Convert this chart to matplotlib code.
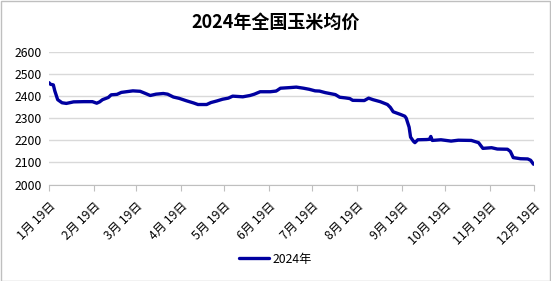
import matplotlib
matplotlib.use("Agg")
import matplotlib.pyplot as plt
import matplotlib.patches as mpatches
import matplotlib.transforms as mtransforms
import pandas as pd

plt.rcParams["font.family"] = ["Noto Sans CJK SC", "DejaVu Sans"]

# 2024 national corn average price (yuan/ton)
dates = [
    "2024-01-19", "2024-01-20", "2024-01-22", "2024-01-23", "2024-01-24", "2024-01-25",
    "2024-01-28", "2024-01-31", "2024-02-05", "2024-02-12", "2024-02-18", "2024-02-21",
    "2024-02-23", "2024-02-25", "2024-02-29", "2024-03-02", "2024-03-06", "2024-03-09",
    "2024-03-17", "2024-03-22", "2024-03-25", "2024-03-29", "2024-04-02", "2024-04-07",
    "2024-04-10", "2024-04-14", "2024-04-18", "2024-04-23", "2024-04-28", "2024-05-01",
    "2024-05-07", "2024-05-10", "2024-05-14", "2024-05-18", "2024-05-22", "2024-05-25",
    "2024-06-01", "2024-06-06", "2024-06-09", "2024-06-13", "2024-06-20", "2024-06-24",
    "2024-06-25", "2024-06-27", "2024-07-04", "2024-07-08", "2024-07-13", "2024-07-17",
    "2024-07-21", "2024-07-24", "2024-07-28", "2024-08-04", "2024-08-07", "2024-08-11",
    "2024-08-14", "2024-08-16", "2024-08-24", "2024-08-27", "2024-08-30", "2024-09-04",
    "2024-09-09", "2024-09-11", "2024-09-13", "2024-09-18", "2024-09-21", "2024-09-22",
    "2024-09-24", "2024-09-25", "2024-09-27", "2024-09-28", "2024-09-30", "2024-10-06",
    "2024-10-08", "2024-10-09", "2024-10-10", "2024-10-16", "2024-10-23", "2024-10-28",
    "2024-11-06", "2024-11-11", "2024-11-14", "2024-11-20", "2024-11-24", "2024-12-01",
    "2024-12-03", "2024-12-05", "2024-12-10", "2024-12-15", "2024-12-17", "2024-12-19",
]
prices = [
    2462, 2455, 2452, 2425, 2405, 2385,
    2371, 2368, 2375, 2376, 2376, 2369,
    2375, 2385, 2395, 2407, 2409, 2418,
    2425, 2423, 2415, 2404, 2410, 2413,
    2410, 2397, 2391, 2380, 2370, 2363,
    2363, 2372, 2379, 2387, 2392, 2401,
    2398, 2404, 2410, 2421, 2421, 2424,
    2428, 2437, 2440, 2442, 2437, 2432,
    2425, 2424, 2417, 2408, 2396, 2393,
    2390, 2382, 2381, 2392, 2385, 2376,
    2363, 2350, 2330, 2318, 2310, 2301,
    2260, 2215, 2196, 2190, 2203, 2204,
    2205, 2218, 2200, 2203, 2197, 2201,
    2200, 2190, 2164, 2167, 2161, 2160,
    2150, 2122, 2117, 2116, 2110, 2092,
]
tick_dates = pd.date_range("2024-01-19", periods=12, freq=pd.DateOffset(months=1))
tick_labels = [f"{d.month}月 19日" for d in tick_dates]
y_ticks = [2000, 2100, 2200, 2300, 2400, 2500, 2600]

W, H = 551, 281
fig = plt.figure(figsize=(W / 100, H / 100), dpi=100)
fig.patch.set_facecolor("white")
fig.patches.append(mpatches.Rectangle((0.5 / W, 0.5 / H), 1 - 1.5 / W, 1 - 1.5 / H,
                                      transform=fig.transFigure, fill=False,
                                      edgecolor="#bfbfbf", linewidth=1))

ax = fig.add_axes([49 / W, 1 - 184.5 / H, (533.5 - 49) / W, (184.5 - 52.3) / H])
x = pd.to_datetime(dates)
ax.plot(x, prices, color="#0000a0", linewidth=2.4, solid_joinstyle="round",
        solid_capstyle="round", label="2024年")

ax.set_ylim(2000, 2600)
ax.set_yticks(y_ticks)
ax.set_xlim(tick_dates[0], tick_dates[-1])
ax.set_xticks(tick_dates)
ax.set_xticklabels(tick_labels, rotation=45, ha="right", va="top",
                   rotation_mode="anchor", fontsize=8.8)
# Excel puts the rotated label a little to the right of its tick
shift = mtransforms.ScaledTranslation(6 / 100, 0, fig.dpi_scale_trans)
for lbl in ax.get_xticklabels():
    lbl.set_transform(lbl.get_transform() + shift)
ax.tick_params(axis="y", length=0, labelsize=8.8, pad=5)
ax.tick_params(axis="x", length=4, color="#bfbfbf", pad=7)
ax.grid(axis="y", color="#d9d9d9", linewidth=1)
ax.set_axisbelow(True)
for side in ["top", "right", "left"]:
    ax.spines[side].set_visible(False)
ax.spines["bottom"].set_color("#bfbfbf")
ax.spines["bottom"].set_zorder(0)

fig.text(0.5, 1 - 22 / H, "2024年全国玉米均价", ha="center", va="center",
         fontsize=13, fontweight="bold")
fig.legend(loc="center", bbox_to_anchor=(0.5, 1 - 259 / H), frameon=False,
           fontsize=8.8, handlelength=2.4, handletextpad=0.3)

fig.savefig("out.png", dpi=100)
